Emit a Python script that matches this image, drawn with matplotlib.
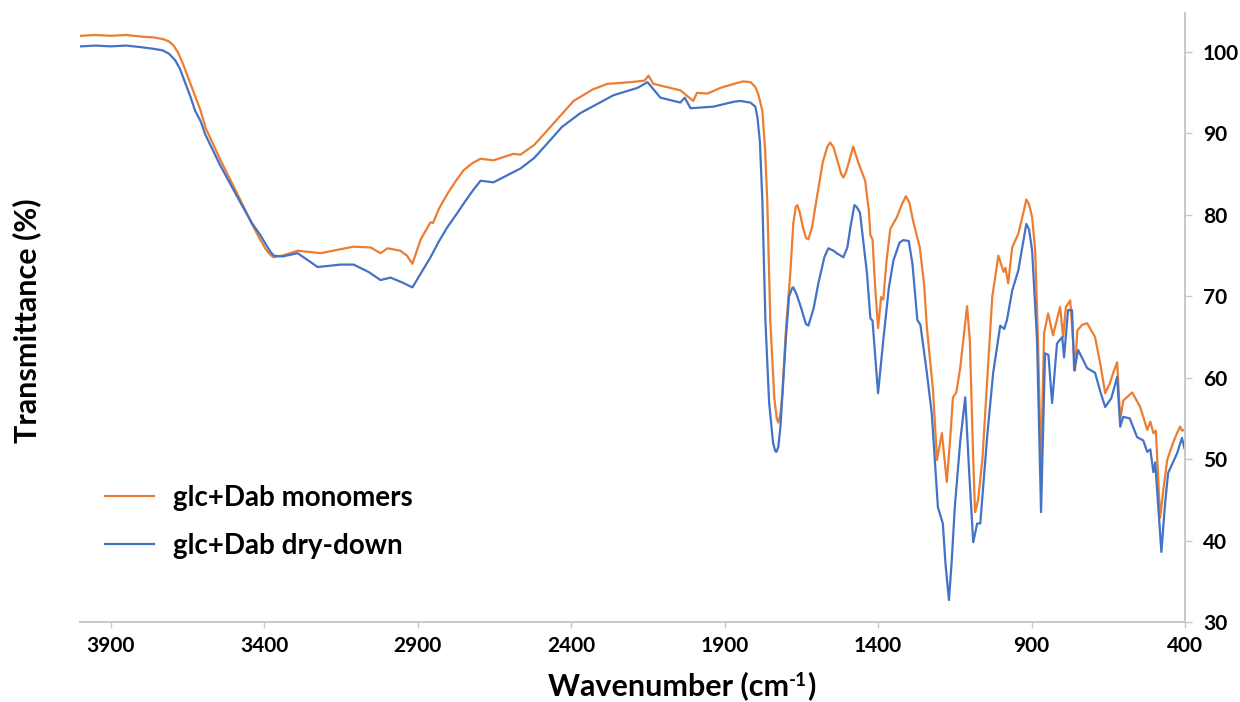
import matplotlib
matplotlib.use("Agg")
import matplotlib.pyplot as plt
from matplotlib.lines import Line2D

plt.rcParams['font.family'] = ['Lato', 'DejaVu Sans']

# ---- data (wavenumber cm-1, transmittance %) ----
wn_mono = [3998, 3950, 3900, 3850, 3800, 3760, 3730, 3710, 3695, 3680, 3665, 3645, 3625, 3607, 3591,
           3542, 3477, 3440, 3412, 3395, 3380, 3369, 3340, 3291, 3216, 3150, 3109, 3053, 3021,
           2998, 2956, 2935, 2917, 2890, 2858, 2850, 2830, 2803, 2775, 2750, 2720, 2695, 2653, 2588,
           2565, 2520, 2477, 2430, 2392, 2330, 2282, 2207, 2160, 2148, 2132, 2044, 2002, 1990, 1956,
           1914, 1860, 1839, 1815, 1800, 1790, 1777, 1768, 1761, 1751, 1738, 1730, 1725, 1718, 1712, 1700, 1686, 1676,
           1668, 1663, 1655, 1645, 1635, 1627, 1615, 1600, 1580, 1565, 1556, 1545, 1535, 1520, 1513, 1505, 1495, 1481, 1464, 1442,
           1430, 1425, 1418, 1410, 1400, 1390, 1383, 1372, 1360, 1339, 1320, 1309, 1298, 1286, 1264, 1250, 1241,
           1221, 1208, 1192, 1176, 1166, 1156, 1145, 1132, 1118, 1110, 1101, 1090, 1084, 1074, 1060,
           1044, 1028, 1008, 991, 985, 976, 963, 943, 925, 917, 908, 898, 888, 879, 869, 859,
           846, 830, 807, 797, 788, 774, 758, 751, 735, 719, 693, 675, 660, 645, 634, 621, 611, 601,
           572, 546, 523, 513, 503, 495, 481, 468, 458, 439, 426, 416, 410, 403, 400]
t_mono = [102.0, 102.1, 102.0, 102.1, 101.9, 101.8, 101.6, 101.3, 100.8, 99.9, 98.6, 96.6, 94.6, 92.8, 90.7,
          86.7, 81.8, 78.9, 76.9, 75.8, 75.1, 74.8, 75.0, 75.6, 75.3, 75.8, 76.1, 76.0, 75.3,
          75.9, 75.6, 75.0, 74.0, 77.0, 79.1, 79.0, 80.8, 82.6, 84.2, 85.5, 86.4, 86.9, 86.7, 87.5,
          87.4, 88.6, 90.4, 92.4, 94.0, 95.4, 96.1, 96.3, 96.5, 97.1, 96.1, 95.3, 94.0, 95.0, 94.9,
          95.6, 96.2, 96.4, 96.3, 95.7, 94.8, 92.8, 88.0, 81.8, 67.0, 57.5, 55.0, 54.5, 55.5, 58.0, 66.0, 72.8, 79.0,
          81.0, 81.2, 80.3, 78.5, 77.2, 77.0, 78.5, 82.0, 86.5, 88.4, 88.9, 88.3, 87.0, 85.0, 84.6, 85.2, 86.5, 88.4, 86.4, 84.2,
          80.5, 77.5, 77.0, 71.5, 66.1, 69.9, 69.6, 74.5, 78.3, 79.7, 81.5, 82.3, 81.5, 79.3, 76.0, 71.5, 66.2,
          58.5, 49.9, 53.2, 47.2, 52.0, 57.6, 58.2, 61.3, 66.0, 68.8, 64.6, 50.0, 43.5, 45.0, 50.0,
          60.0, 69.9, 75.0, 73.0, 73.5, 71.6, 76.0, 77.7, 80.5, 81.9, 81.3, 79.7, 75.6, 64.6, 49.0, 65.5,
          67.9, 65.2, 68.7, 65.0, 68.7, 69.5, 60.9, 65.8, 66.5, 66.7, 65.0, 61.5, 58.1, 59.3, 60.6, 61.9, 54.8, 57.2,
          58.2, 56.4, 53.6, 54.6, 53.2, 53.5, 42.8, 47.0, 49.9, 52.0, 53.2, 54.0, 53.5, 53.6, 53.4]

wn_dry = [3998, 3950, 3900, 3850, 3800, 3760, 3730, 3710, 3690, 3675, 3660, 3640, 3625, 3607, 3591,
          3542, 3477, 3440, 3412, 3395, 3380, 3369, 3340, 3291, 3260, 3226, 3150, 3109, 3060,
          3021, 2988, 2950, 2917, 2858, 2830, 2803, 2775, 2750, 2720, 2695, 2653, 2565, 2520, 2477, 2430, 2370,
          2262, 2184, 2151, 2109, 2044, 2030, 2011, 1936, 1870, 1849, 1816, 1800, 1793, 1785, 1777,
          1767, 1755, 1742, 1735, 1731, 1725, 1718, 1700, 1690, 1680, 1676, 1665, 1650, 1635, 1627, 1610, 1595, 1575, 1562,
          1545, 1535, 1513, 1500, 1490, 1477, 1470, 1459, 1436, 1425, 1418, 1410, 1400, 1383, 1365, 1350, 1330, 1318,
          1300, 1288, 1272, 1262, 1241, 1225, 1205, 1189, 1180, 1169, 1160, 1150, 1132, 1116, 1103,
          1090, 1077, 1067, 1044, 1025, 1002, 989, 980, 963, 943, 925, 917, 908, 898, 882,
          869, 856, 845, 833, 817, 800, 794, 781, 768, 761, 748, 719, 693, 675, 660, 640,
          621, 611, 601, 580, 556, 536, 523, 513, 503, 497, 477, 465, 455, 426, 410, 400]
t_dry = [100.7, 100.8, 100.7, 100.8, 100.6, 100.4, 100.2, 99.8, 99.0, 98.0, 96.5, 94.5, 92.8, 91.5, 89.8,
         86.0, 81.5, 79.0, 77.5, 76.4, 75.5, 75.0, 74.9, 75.3, 74.5, 73.6, 73.9, 73.9, 73.0,
         72.0, 72.3, 71.7, 71.1, 74.8, 76.8, 78.5, 80.0, 81.4, 83.0, 84.2, 84.0, 85.7, 87.0, 88.8, 90.8, 92.5,
         94.7, 95.6, 96.3, 94.4, 93.8, 94.4, 93.1, 93.3, 93.9, 94.0, 93.8, 93.3, 92.0, 89.0, 81.8,
         67.0, 57.0, 52.0, 51.0, 50.9, 51.5, 54.0, 65.0, 70.0, 71.0, 71.1, 70.2, 68.5, 66.6, 66.4, 68.5, 71.5, 74.8, 75.9,
         75.6, 75.3, 74.8, 76.0, 78.5, 81.2, 81.0, 80.3, 72.8, 67.3, 67.0, 63.0, 58.1, 64.6, 71.0, 74.4, 76.6, 76.9,
         76.8, 74.0, 67.1, 66.5, 60.6, 55.6, 44.1, 42.1, 37.0, 32.7, 37.5, 44.1, 52.3, 57.6, 48.3,
         39.8, 42.1, 42.1, 53.0, 60.6, 66.4, 66.0, 67.1, 70.7, 73.2, 77.2, 78.9, 78.2, 75.6, 64.6,
         43.5, 63.0, 62.8, 56.9, 64.2, 65.0, 62.5, 68.3, 68.3, 60.9, 63.4, 61.2, 60.6, 58.2, 56.4, 57.5,
         60.1, 54.0, 55.2, 55.0, 52.7, 52.3, 50.9, 51.2, 48.4, 49.6, 38.6, 44.5, 48.3, 50.7, 52.6, 51.1]

labels = ["glc+Dab monomers", "glc+Dab dry-down"]
colors = ["#ED7D31", "#4472C4"]
x_ticks = [3900, 3400, 2900, 2400, 1900, 1400, 900, 400]
y_ticks = [30, 40, 50, 60, 70, 80, 90, 100]

W, H = 1240, 702
fig = plt.figure(figsize=(W/100, H/100), dpi=100)
ax = fig.add_axes([80/W, 1-622/H, (1185-80)/W, (622-13)/H])

ax.plot(wn_mono, t_mono, color=colors[0], lw=1.6, solid_joinstyle='round')
ax.plot(wn_dry, t_dry, color=colors[1], lw=1.6, solid_joinstyle='round')

ax.set_xlim(4000, 400)
ax.set_ylim(30, 104.8)
ax.set_xticks(x_ticks)
ax.set_yticks(y_ticks)

for s in ['top', 'left']:
    ax.spines[s].set_visible(False)
for s in ['right', 'bottom']:
    ax.spines[s].set_color('#C8C8C8')
    ax.spines[s].set_linewidth(1.4)

ax.yaxis.tick_right()
ax.tick_params(axis='both', colors='#C8C8C8', width=1.0,
               labelcolor='black', labelsize=15)
ax.tick_params(axis='x', length=4, pad=6)
ax.tick_params(axis='y', length=5, pad=8)
for lab in ax.get_xticklabels() + ax.get_yticklabels():
    lab.set_fontweight('bold')

# x label with a small raised "-1"
fs = 22
fig.canvas.draw()
r = fig.canvas.get_renderer()
y_base = 1 - 695/H
t1 = fig.text(0, y_base, "Wavenumber (cm", fontsize=fs, fontweight='bold', va='baseline')
t2 = fig.text(0, y_base + 9/H, "-1", fontsize=fs*0.62, fontweight='bold', va='baseline')
t3 = fig.text(0, y_base, ")", fontsize=fs, fontweight='bold', va='baseline')
w1 = t1.get_window_extent(r).width
w2 = t2.get_window_extent(r).width
w3 = t3.get_window_extent(r).width
total = w1 + w2 + w3
x0 = 682 - total/2
t1.set_x(x0/W)
t2.set_x((x0 + w1)/W)
t3.set_x((x0 + w1 + w2)/W)

fig.text(27/W, 1-321/H, "Transmittance (%)", ha='center', va='center',
         rotation=90, fontsize=fs, fontweight='bold')

handles = [Line2D([], [], color=c, lw=1.6) for c in colors]
leg = ax.legend(handles, labels, loc='center left', bbox_to_anchor=(105/W, 1-522/H),
                bbox_transform=fig.transFigure, frameon=False,
                prop={'weight': 'bold', 'size': 20}, handlelength=1.75,
                handletextpad=0.7, labelspacing=0.8, borderpad=0, borderaxespad=0)

fig.savefig("out.png", dpi=100)
